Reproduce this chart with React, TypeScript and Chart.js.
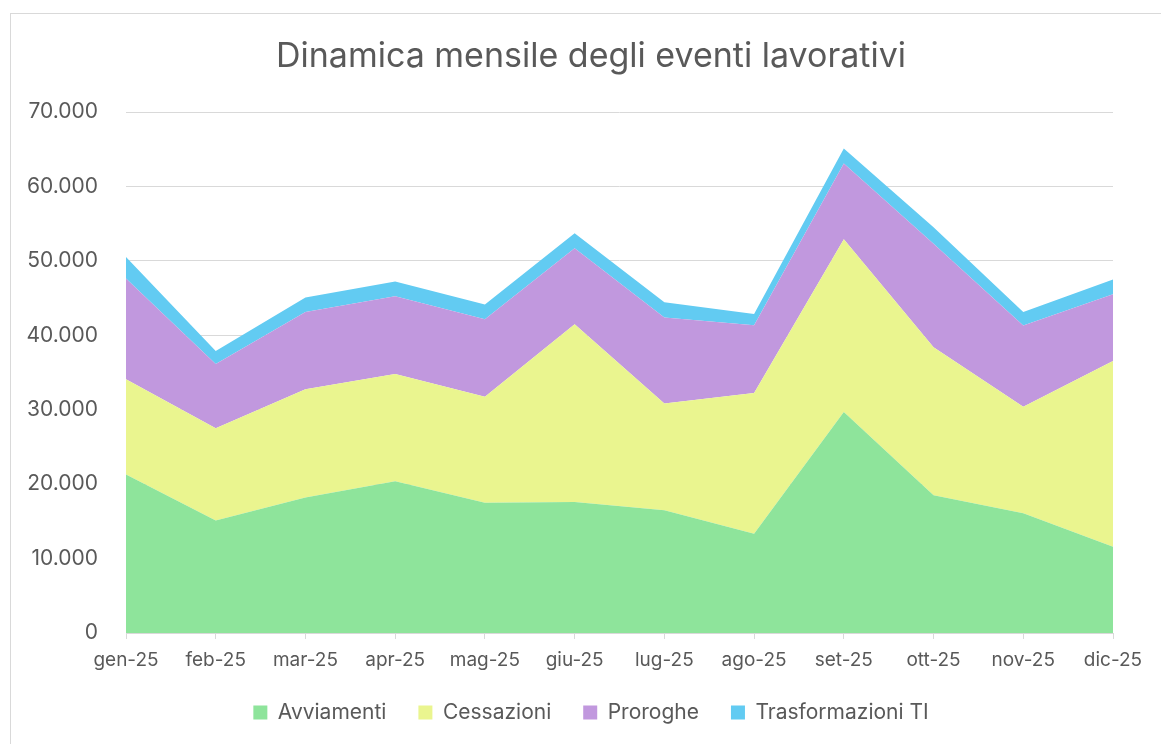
import { useEffect, useRef } from "react";
import { Chart, registerables } from "chart.js";

Chart.register(...registerables);

const months = ["gen-25", "feb-25", "mar-25", "apr-25", "mag-25", "giu-25", "lug-25", "ago-25", "set-25", "ott-25", "nov-25", "dic-25"];
const avviamenti = [21300, 15100, 18200, 20400, 17500, 17600, 16500, 13350, 29700, 18500, 16100, 11600];
const cessazioni = [12800, 12400, 14550, 14400, 14240, 23870, 14340, 18900, 23200, 19900, 14300, 24950];
const proroghe = [13530, 8640, 10390, 10440, 10400, 10210, 11550, 9100, 10170, 13900, 10900, 8960];
const trasformazioni = [2900, 1750, 1930, 2000, 2000, 2015, 2060, 1520, 2015, 2230, 1840, 2000];

const seriesNames = ["Avviamenti", "Cessazioni", "Proroghe", "Trasformazioni TI"];
const seriesColors = ["#8ee49b", "#eaf58f", "#c198de", "#62cbf2"];

const FONT = "Inter, 'Liberation Sans', sans-serif";
const TEXT = "#595959";
const GRID = "#d9d9d9";

function fmt(v: number): string {
  return String(Math.round(v)).replace(/\B(?=(\d{3})+(?!\d))/g, ".");
}

const shiftBlocks = {
  id: "shiftBlocks",
  afterLayout(chart: any) {
    const dx = 27.5;
    const t = chart.titleBlock;
    if (t) {
      t.left += dx;
      t.right += dx;
    }
    const l = chart.legend;
    if (l) {
      l.left += dx;
      l.right += dx;
    }
  },
};

export default function App() {
  const ref = useRef<HTMLCanvasElement>(null);

  useEffect(() => {
    const seriesData = [avviamenti, cessazioni, proroghe, trasformazioni];
    const chart = new Chart(ref.current!, {
      type: "line",
      data: {
        labels: months,
        datasets: seriesData.map((d, i) => ({
          label: seriesNames[i],
          data: d,
          backgroundColor: seriesColors[i],
          borderColor: seriesColors[i],
          borderWidth: 0,
          pointRadius: 0,
          pointHoverRadius: 0,
          tension: 0,
          fill: i === 0 ? "origin" : "-1",
        })),
      },
      plugins: [shiftBlocks],
      options: {
        responsive: false,
        animation: false,
        layout: { padding: { left: 14, right: 48, top: 0, bottom: 11 } },
        plugins: {
          title: {
            display: true,
            text: "Dinamica mensile degli eventi lavorativi",
            color: TEXT,
            font: { family: FONT, size: 34, weight: "normal" },
            padding: { top: 36, bottom: 35.2 },
          },
          legend: {
            position: "bottom",
            labels: {
              boxWidth: 14,
              boxHeight: 14,
              padding: 32,
              color: TEXT,
              font: { family: FONT, size: 21 },
            },
          },
          tooltip: { enabled: false },
        },
        scales: {
          x: {
            type: "category",
            offset: false,
            grid: { display: true, drawOnChartArea: false, drawTicks: true, tickLength: 6, color: GRID },
            border: { display: true, color: GRID },
            ticks: {
              color: TEXT,
              padding: 10,
              maxRotation: 0,
              autoSkip: false,
              font: { family: FONT, size: 19 },
            },
            afterFit: (s: any) => {
              s.height = 37;
            },
          },
          y: {
            stacked: true,
            min: 0,
            max: 70000,
            grid: { color: GRID, drawTicks: false },
            border: { display: false },
            ticks: {
              stepSize: 10000,
              padding: 28,
              color: TEXT,
              font: { family: FONT, size: 21 },
              callback: (v: any) => fmt(Number(v)),
            },
            afterFit: (s: any) => {
              s.width = 112;
            },
          },
        },
      },
    });
    return () => chart.destroy();
  }, []);

  return (
    <div style={{ position: "fixed", left: 0, top: 0, width: 1161, height: 744, background: "#fff", overflow: "hidden" }}>
      <div
        style={{
          position: "absolute",
          left: 10,
          top: 13,
          width: 1300,
          height: 900,
          border: "1px solid #d9d9d9",
          boxSizing: "border-box",
        }}
      />
      <canvas ref={ref} width={1161} height={744} style={{ position: "absolute", left: 0, top: 0, width: 1161, height: 744 }} />
    </div>
  );
}
